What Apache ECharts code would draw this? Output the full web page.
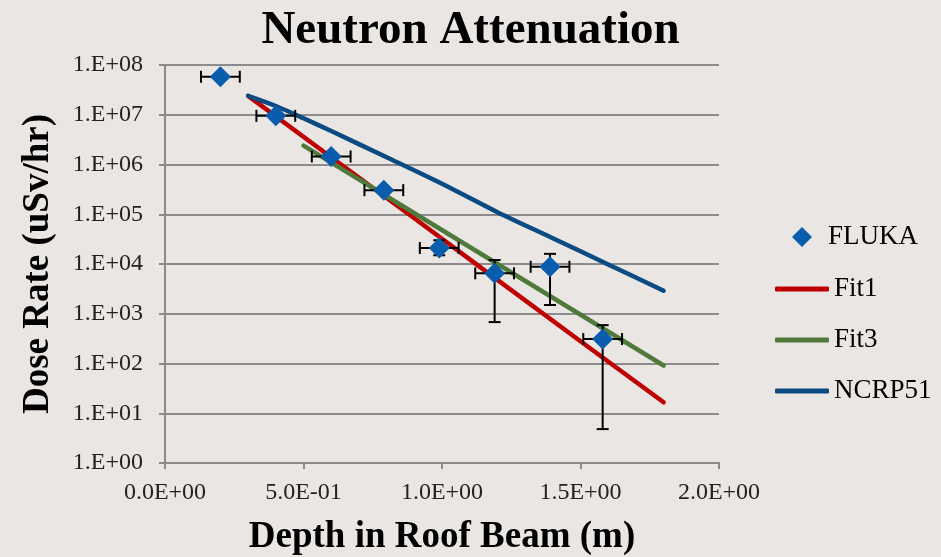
<!DOCTYPE html>
<html>
<head>
<meta charset="utf-8">
<title>Neutron Attenuation</title>
<script src="https://cdn.jsdelivr.net/npm/echarts@6/dist/echarts.min.js"></script>
<style>
  html, body { margin: 0; padding: 0; background: #E9E6E3; }
  #chart { width: 941px; height: 557px; }
</style>
</head>
<body>
<div id="chart"></div>
<script>
// FLUKA simulated dose rate vs. depth, with error bars
const flukaDepth = [0.2, 0.4, 0.6, 0.79, 0.99, 1.19, 1.39, 1.58];
const flukaDose  = [5.8e7, 9.5e6, 1.45e6, 3.05e5, 2.1e4, 6.5e3, 8.8e3, 3.1e2];
const flukaDepthErr = [0.07, 0.07, 0.07, 0.07, 0.07, 0.07, 0.07, 0.07];
const flukaDoseLow  = [null, null, null, null, 1.5e4, 6.8e2, 1.5e3, 4.8];
const flukaDoseHigh = [null, null, null, null, 3.0e4, 1.2e4, 1.6e4, 5.9e2];

// Fit curves
const fit1Depth = [0.3, 0.6, 0.9, 1.2, 1.5, 1.8];
const fit1Dose  = [2.4e7, 1.4e6, 8.3e4, 4.8e3, 2.8e2, 16.6];
const fit3Depth = [0.5, 0.8, 1.1, 1.4, 1.8];
const fit3Dose  = [2.4e6, 2.3e5, 2.2e4, 2.1e3, 91];
const ncrpDepth = [0.3, 0.4, 0.5, 0.6, 0.8, 1.0, 1.2, 1.4, 1.6, 1.8];
const ncrpDose  = [2.4e7, 1.5e7, 8.5e6, 4.7e6, 1.4e6, 4.1e5, 1.1e5, 3.3e4, 9.8e3, 2.9e3];

const FONT = '"Liberation Serif", "Times New Roman", serif';

function pad2(n) { return (n < 10 ? '0' : '') + n; }
function sciLabel(v) {
  if (v === 0) return '0.0E+00';
  const e = Math.floor(Math.log10(Math.abs(v)) + 1e-9);
  const m = v / Math.pow(10, e);
  return m.toFixed(1) + 'E' + (e < 0 ? '-' : '+') + pad2(Math.abs(e));
}
function logLabel(v) {
  const e = Math.round(Math.log10(v));
  return '1.E' + (e < 0 ? '-' : '+') + pad2(Math.abs(e));
}

const zip = (xs, ys) => xs.map((x, i) => [x, ys[i]]);

const errData = flukaDepth.map((x, i) => [x, flukaDose[i], flukaDepthErr[i], flukaDoseLow[i], flukaDoseHigh[i]]);

const legendText = { fontFamily: FONT, fontSize: 27, color: '#000', lineHeight: 30 };

const chart = echarts.init(document.getElementById('chart'));
chart.setOption({
  backgroundColor: '#E9E6E3',
  animation: false,
  title: {
    text: 'Neutron Attenuation',
    left: 'center',
    top: 2,
    textStyle: { fontFamily: FONT, fontWeight: 'bold', fontSize: 47, color: '#000' }
  },
  grid: { left: 165, top: 65, width: 554, height: 398, containLabel: false, outerBoundsMode: 'none' },
  legend: [
    {
      // marker entry
      orient: 'vertical',
      left: 787,
      top: 217,
      itemWidth: 20,
      itemHeight: 20,
      textStyle: Object.assign({}, legendText, { padding: [0, 0, 0, 11] }),
      data: [{ name: 'FLUKA', icon: 'diamond' }]
    },
    {
      // line entries
      orient: 'vertical',
      left: 770,
      top: 269,
      itemWidth: 54,
      itemHeight: 5,
      itemGap: 21,
      textStyle: legendText,
      data: [
        { name: 'Fit1', icon: 'roundRect' },
        { name: 'Fit3', icon: 'roundRect' },
        { name: 'NCRP51', icon: 'roundRect' }
      ]
    }
  ],
  xAxis: {
    type: 'value',
    min: 0, max: 2, interval: 0.5,
    name: 'Depth in Roof Beam (m)',
    nameLocation: 'middle',
    nameGap: 56,
    nameTextStyle: { fontFamily: FONT, fontWeight: 'bold', fontSize: 37, color: '#000' },
    axisLine: { lineStyle: { color: '#8A8A8A', width: 2 } },
    axisTick: { show: true, length: 6, lineStyle: { color: '#8A8A8A', width: 2 } },
    axisLabel: { formatter: sciLabel, fontFamily: FONT, fontSize: 24, color: '#222', margin: 18 },
    splitLine: { show: false }
  },
  yAxis: {
    type: 'log',
    logBase: 10,
    min: 1, max: 1e8,
    name: 'Dose Rate (uSv/hr)',
    nameLocation: 'middle',
    nameRotate: 90,
    nameGap: 108,
    nameTextStyle: { fontFamily: FONT, fontWeight: 'bold', fontSize: 37, color: '#000' },
    axisLine: { show: true, lineStyle: { color: '#8A8A8A', width: 2 } },
    axisTick: { show: true, length: 6, lineStyle: { color: '#8A8A8A', width: 2 } },
    axisLabel: { formatter: logLabel, fontFamily: FONT, fontSize: 24, color: '#222', margin: 22 },
    splitLine: { show: true, lineStyle: { color: '#8C8C8C', width: 2 } },
    minorTick: { show: false }
  },
  series: [
    {
      name: 'Fit1', type: 'line', data: zip(fit1Depth, fit1Dose),
      symbol: 'none', z: 2,
      lineStyle: { color: '#C00000', width: 4.5, cap: 'round' },
      itemStyle: { color: '#C00000' }
    },
    {
      name: 'Fit3', type: 'line', data: zip(fit3Depth, fit3Dose),
      symbol: 'none', z: 2,
      lineStyle: { color: '#4F7A3B', width: 4.5, cap: 'round' },
      itemStyle: { color: '#4F7A3B' }
    },
    {
      name: 'NCRP51', type: 'line', data: zip(ncrpDepth, ncrpDose),
      symbol: 'none', smooth: 0.3, z: 2,
      lineStyle: { color: '#0B4A82', width: 4.5, cap: 'round' },
      itemStyle: { color: '#0B4A82' }
    },
    {
      name: 'FLUKA error', type: 'custom', z: 3,
      data: errData,
      renderItem: function (params, api) {
        const x = api.value(0), y = api.value(1), dx = api.value(2);
        const lo = api.value(3), hi = api.value(4);
        const style = { stroke: '#000', lineWidth: 2 };
        const l = api.coord([x - dx, y]);
        const r = api.coord([x + dx, y]);
        const cap = 6;
        const children = [
          { type: 'line', shape: { x1: l[0], y1: l[1], x2: r[0], y2: r[1] }, style },
          { type: 'line', shape: { x1: l[0], y1: l[1] - cap, x2: l[0], y2: l[1] + cap }, style },
          { type: 'line', shape: { x1: r[0], y1: r[1] - cap, x2: r[0], y2: r[1] + cap }, style }
        ];
        if (lo && hi && !isNaN(lo) && !isNaN(hi)) {
          const t = api.coord([x, hi]);
          const b = api.coord([x, lo]);
          children.push(
            { type: 'line', shape: { x1: t[0], y1: t[1], x2: b[0], y2: b[1] }, style },
            { type: 'line', shape: { x1: t[0] - cap, y1: t[1], x2: t[0] + cap, y2: t[1] }, style },
            { type: 'line', shape: { x1: b[0] - cap, y1: b[1], x2: b[0] + cap, y2: b[1] }, style }
          );
        }
        return { type: 'group', children };
      },
      silent: true
    },
    {
      name: 'FLUKA', type: 'scatter', z: 4,
      data: zip(flukaDepth, flukaDose),
      symbol: 'diamond', symbolSize: 21,
      itemStyle: { color: '#0A5CAD', opacity: 1 }
    }
  ]
});
</script>
</body>
</html>
